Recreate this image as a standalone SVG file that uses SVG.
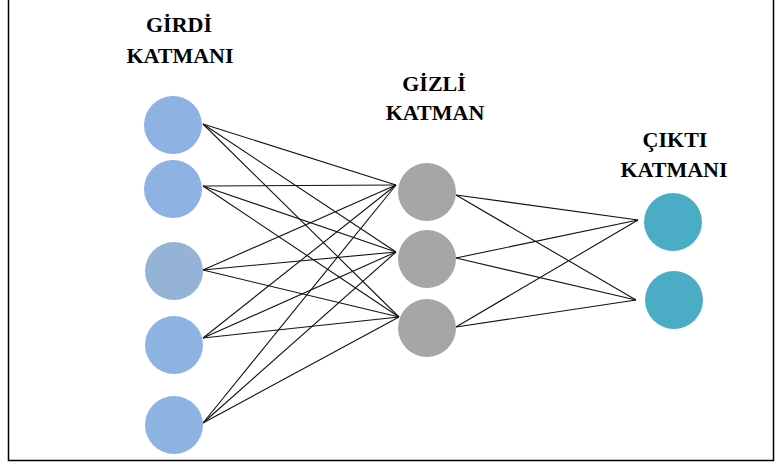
<svg xmlns="http://www.w3.org/2000/svg" width="775" height="464" viewBox="0 0 775 464">
<style>
.t{font-family:"Liberation Serif","Times New Roman",serif;font-weight:bold;font-size:22px;fill:#000;text-anchor:middle}
.c line{stroke:#111;stroke-width:1.1}
.in{fill:#8DB3E2}
.hid{fill:#A6A6A6}
.out{fill:#4BACC6}
</style>
<rect x="0" y="0" width="775" height="464" fill="#fff"/>
<path d="M8.5 0V460.5H773.5V0" fill="none" stroke="#000" stroke-width="1.5"/>
<g id="labels">
<text class="t" x="179" y="32">GİRDİ</text>
<text class="t" x="180" y="63">KATMANI</text>
<text class="t" x="434" y="91">GİZLİ</text>
<text class="t" x="435" y="120">KATMAN</text>
<text class="t" x="675" y="147">ÇIKTI</text>
<text class="t" x="674" y="177">KATMANI</text>
</g>
<g id="connectors" class="c">
<line x1="203" y1="124" x2="396" y2="185"/>
<line x1="203" y1="124" x2="396" y2="252"/>
<line x1="203" y1="124" x2="399" y2="317"/>
<line x1="203" y1="186" x2="396" y2="185"/>
<line x1="203" y1="186" x2="396" y2="252"/>
<line x1="203" y1="186" x2="399" y2="317"/>
<line x1="203" y1="270" x2="396" y2="185"/>
<line x1="203" y1="270" x2="396" y2="252"/>
<line x1="203" y1="270" x2="399" y2="317"/>
<line x1="203" y1="338" x2="396" y2="185"/>
<line x1="203" y1="338" x2="396" y2="252"/>
<line x1="203" y1="338" x2="399" y2="317"/>
<line x1="203" y1="423" x2="396" y2="185"/>
<line x1="203" y1="423" x2="396" y2="252"/>
<line x1="203" y1="423" x2="399" y2="317"/>
<line x1="456" y1="195" x2="638" y2="220"/>
<line x1="456" y1="195" x2="636" y2="300"/>
<line x1="456" y1="258" x2="638" y2="220"/>
<line x1="456" y1="258" x2="636" y2="300"/>
<line x1="456" y1="327" x2="638" y2="220"/>
<line x1="456" y1="327" x2="636" y2="300"/>
</g>
<g id="input1"><circle class="in" cx="173" cy="125" r="29"/></g>
<g id="input2"><circle class="in" cx="173" cy="189" r="29"/></g>
<g id="input3"><circle cx="174" cy="271" r="29" fill="#95B3D7"/></g>
<g id="input4"><circle class="in" cx="174" cy="345" r="29"/></g>
<g id="input5"><circle class="in" cx="174" cy="425" r="29"/></g>
<g id="hidden1"><circle class="hid" cx="427" cy="192" r="29"/></g>
<g id="hidden2"><circle class="hid" cx="427" cy="259" r="29"/></g>
<g id="hidden3"><circle class="hid" cx="427" cy="328" r="29"/></g>
<g id="output1"><circle class="out" cx="673" cy="222" r="29"/></g>
<g id="output2"><circle class="out" cx="674" cy="300" r="29"/></g>
</svg>
